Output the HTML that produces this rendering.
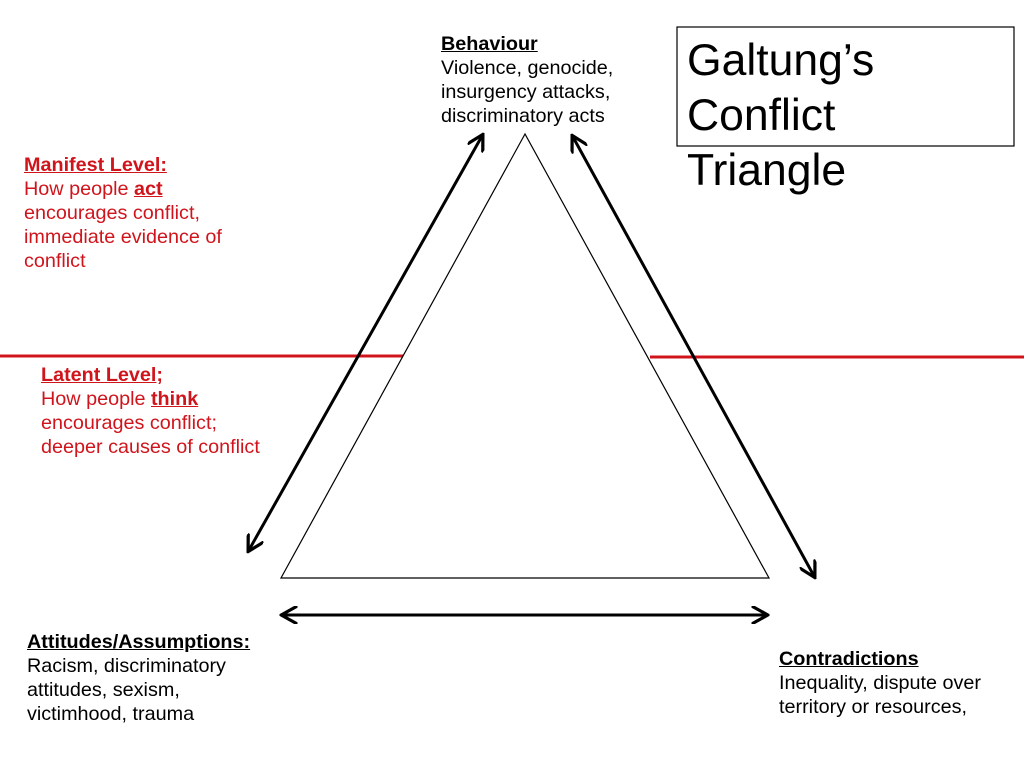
<!DOCTYPE html>
<html><head><meta charset="utf-8"><style>
body{margin:0;width:1024px;height:768px;background:#fff;position:relative;overflow:hidden;font-family:"Liberation Sans",Arial,sans-serif;}
.t{position:absolute;font-size:19.8px;line-height:24px;color:#000;}
.r{color:#d0141c;}
b{font-weight:bold;text-decoration:underline;}
</style></head><body>
<svg width="1024" height="768" style="position:absolute;left:0;top:0">
<defs><marker id="a" viewBox="0 0 10 10" refX="8" refY="5" markerWidth="6" markerHeight="6" orient="auto-start-reverse"><path d="M0,0 L9,5 L0,10" fill="none" stroke="#000" stroke-width="1.8"/></marker></defs>
<line x1="0" y1="356" x2="403" y2="356" stroke="#d0141c" stroke-width="3"/>
<line x1="650" y1="357" x2="1024" y2="357" stroke="#d0141c" stroke-width="3"/>
<polygon points="525,134 281,578 769,578" fill="none" stroke="#000" stroke-width="1.2"/>
<line x1="482" y1="136" x2="249" y2="550" stroke="#000" stroke-width="3" marker-start="url(#a)" marker-end="url(#a)"/>
<line x1="573" y1="137" x2="814" y2="576" stroke="#000" stroke-width="3" marker-start="url(#a)" marker-end="url(#a)"/>
<line x1="283" y1="615" x2="766" y2="615" stroke="#000" stroke-width="3" marker-start="url(#a)" marker-end="url(#a)"/>
<rect x="677" y="27" width="337" height="119" fill="none" stroke="#000" stroke-width="1.2"/>
</svg>
<div style="position:absolute;left:687px;top:33px;font-size:44.5px;line-height:55px;">Galtung’s<br>Conflict<br>Triangle</div>
<div class="t" style="left:441px;top:32px"><b>Behaviour</b><br>Violence, genocide,<br>insurgency attacks,<br>discriminatory acts</div>
<div class="t r" style="left:24px;top:153px"><b>Manifest Level:</b><br>How people <b>act</b><br>encourages conflict,<br>immediate evidence of<br>conflict</div>
<div class="t r" style="left:41px;top:363px"><b>Latent Level;</b><br>How people <b>think</b><br>encourages conflict;<br>deeper causes of conflict</div>
<div class="t" style="left:27px;top:630px"><b>Attitudes/Assumptions:</b><br>Racism, discriminatory<br>attitudes, sexism,<br>victimhood, trauma</div>
<div class="t" style="left:779px;top:647px"><b>Contradictions</b><br>Inequality, dispute over<br>territory or resources,</div>
</body></html>
